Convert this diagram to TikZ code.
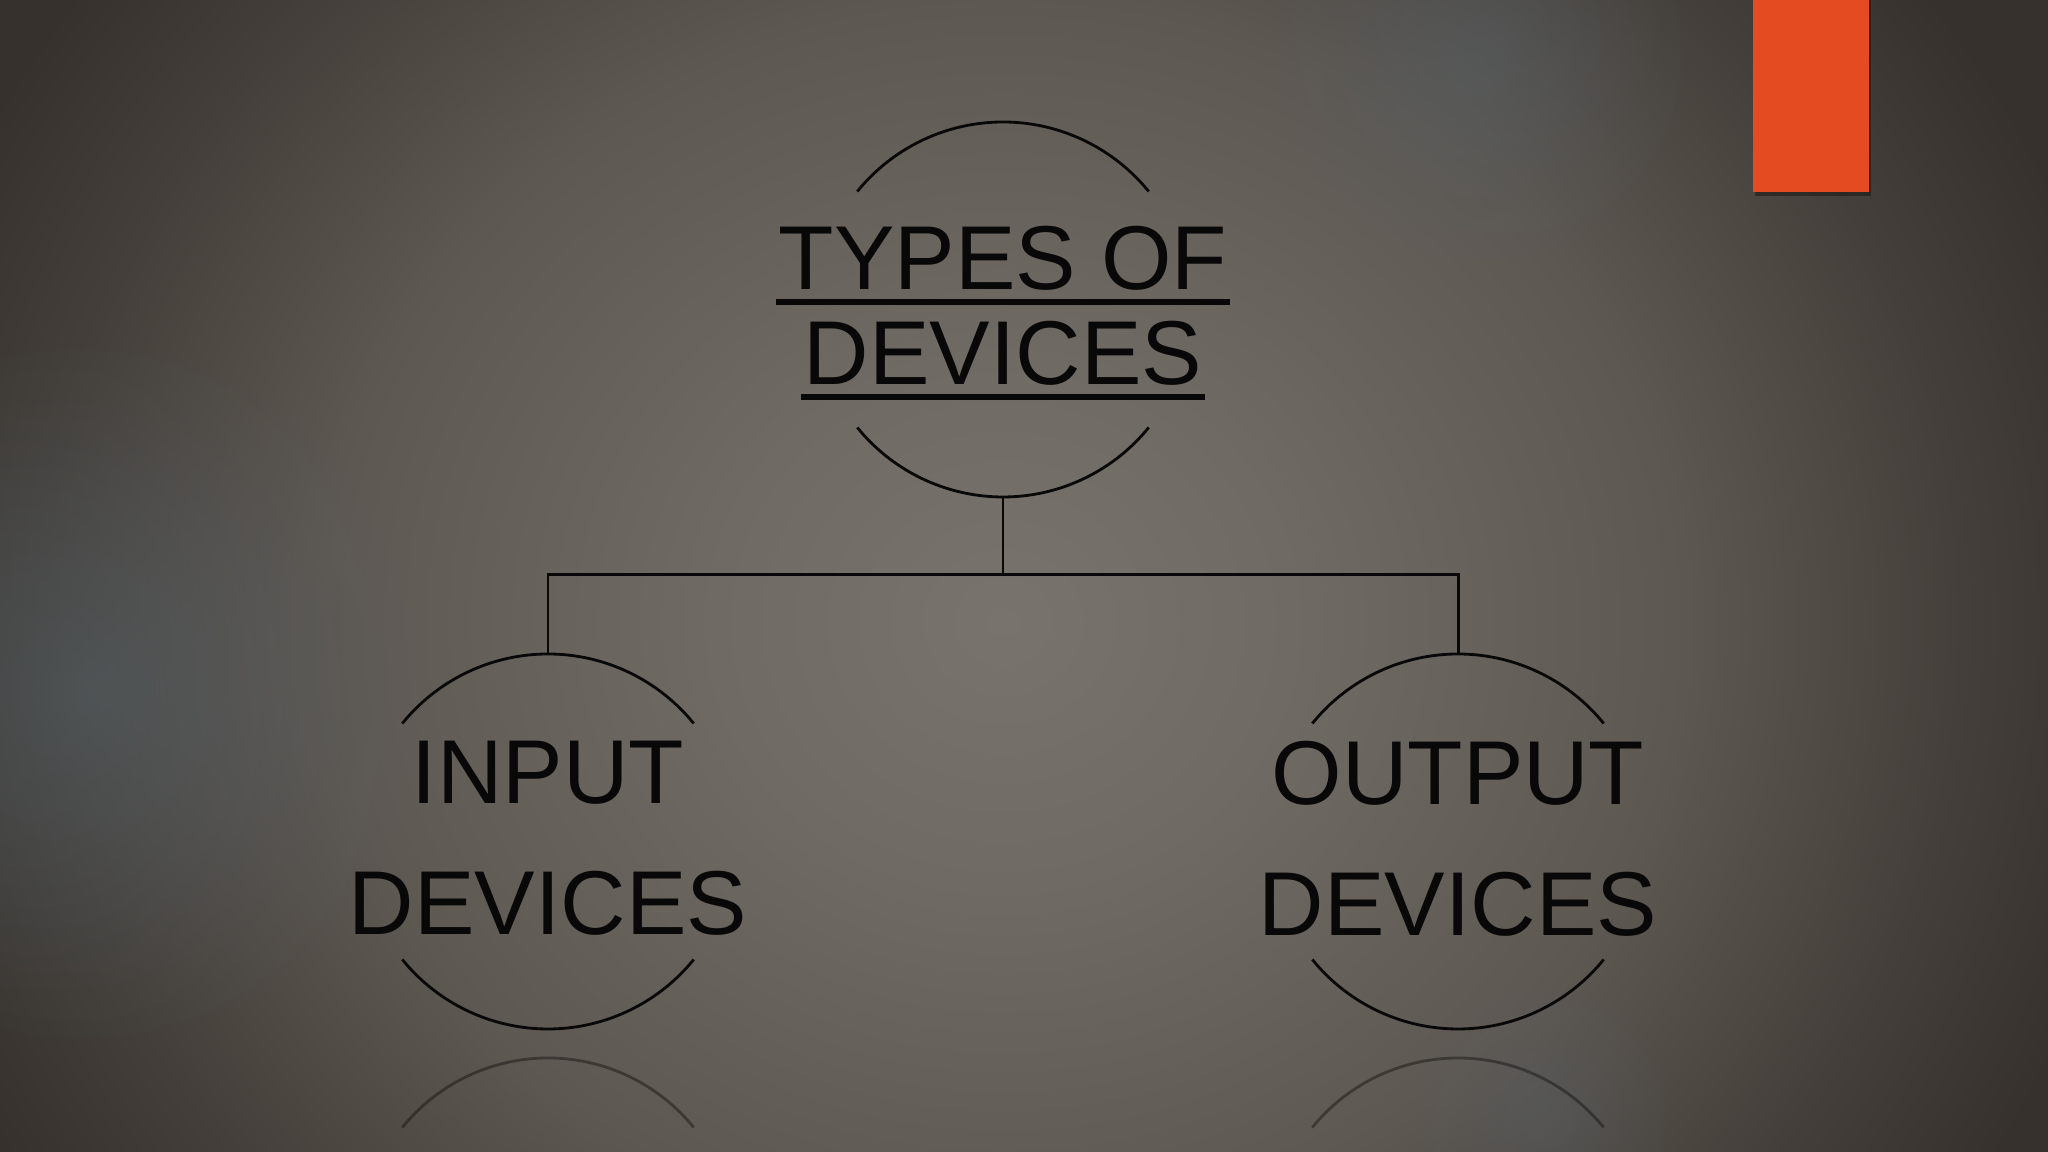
\documentclass[tikz,border=0pt]{standalone}
\usepackage{fontspec}
\setmainfont{Liberation Sans}
\usepackage{tikz}
\usetikzlibrary{positioning,calc,fadings}

\definecolor{bgEdge}{RGB}{54,49,44}
\definecolor{bgDim}{RGB}{68,63,58}
\definecolor{bgHalf}{RGB}{94,88,82}
\definecolor{bgMid}{RGB}{112,106,100}
\definecolor{bgCore}{RGB}{121,115,109}
\definecolor{blobGrey}{RGB}{86,100,108}
\definecolor{inkBlack}{RGB}{8,8,8}
\definecolor{slideOrange}{RGB}{229,75,33}
\definecolor{tabShadow}{RGB}{30,26,22}

\pgfdeclareradialshading{bgglow}{\pgfpoint{0bp}{0bp}}{color(0bp)=(bgCore); color(6bp)=(bgMid); color(14bp)=(bgHalf); color(20bp)=(bgDim); color(24bp)=(bgEdge); color(50bp)=(bgEdge)}
\tikzfading[name=softblob, inner color=transparent!0, outer color=transparent!100]

\begin{document}
\begin{tikzpicture}[
    ring/.style={circle, minimum size=3.75cm, inner sep=0pt, outer sep=0pt},
    arcline/.style={line width=0.8pt, draw=inkBlack},
    echoline/.style={line width=0.8pt, draw=inkBlack, opacity=0.4},
    link/.style={line width=0.85pt, draw=inkBlack},
    headtext/.style={anchor=base, inner sep=0pt, text=inkBlack, font=\fontsize{25.8}{27}\selectfont},
    kidtext/.style={anchor=north, inner sep=0pt, align=center, text=inkBlack, font=\fontsize{25.8}{37.3}\selectfont}
]
    \useasboundingbox (0,0) rectangle (20.48,11.52);

    % backdrop
    \begin{scope}
        \clip (0,0) rectangle (20.48,11.52);
        \fill[bgEdge] (0,0) rectangle (20.48,11.52);
        \shade[shading=bgglow] (10.03,5.3) ellipse (12 and 11);
        \fill[blobGrey, opacity=0.5, path fading=softblob] (0.9,4.6) circle (3.6);
        \fill[blobGrey, opacity=0.4, path fading=softblob] (14.76,10.9) circle (2.2);
        \fill[blobGrey, opacity=0.3, path fading=softblob] (15.4,0.4) circle (1.4);
    \end{scope}

    % orange tab
    \fill[tabShadow, opacity=0.6] (17.55,9.56) rectangle (18.71,11.52);
    \fill[slideOrange] (17.53,9.60) rectangle (18.69,11.52);

    \node [ring] (top) at (10.03,8.425) {};
    \node [ring, below=1.57cm of top, xshift=-4.55cm] (inp) {};
    \node [ring, below=1.57cm of top, xshift=4.55cm] (outp) {};
    \node [ring, below=0.29cm of inp] (inpEcho) {};
    \node [ring, below=0.29cm of outp] (outpEcho) {};

    \draw [arcline] (top.39) arc[start angle=39, end angle=141, radius=1.875cm];
    \draw [arcline] (top.-39) arc[start angle=-39, end angle=-141, radius=1.875cm];
    \draw [arcline] (inp.39) arc[start angle=39, end angle=141, radius=1.875cm];
    \draw [arcline] (inp.-39) arc[start angle=-39, end angle=-141, radius=1.875cm];
    \draw [arcline] (outp.39) arc[start angle=39, end angle=141, radius=1.875cm];
    \draw [arcline] (outp.-39) arc[start angle=-39, end angle=-141, radius=1.875cm];
    \draw [echoline] (inpEcho.39) arc[start angle=39, end angle=141, radius=1.875cm];
    \draw [echoline] (outpEcho.39) arc[start angle=39, end angle=141, radius=1.875cm];

    % title, two underlined lines
    \node [headtext] (topLineA) at ([yshift=1.95mm]top.center) {TYPES OF};
    \node [headtext] (topLineB) at ([yshift=-7.55mm]top.center) {DEVICES};
    \fill [inkBlack] ([xshift=-0.2mm, yshift=-0.95mm]topLineA.base west) rectangle ([xshift=0.2mm, yshift=-1.5mm]topLineA.base east);
    \fill [inkBlack] ([xshift=-0.2mm, yshift=-0.95mm]topLineB.base west) rectangle ([xshift=0.2mm, yshift=-1.55mm]topLineB.base east);

    \node [kidtext] (inpText) at ([yshift=10.15mm]inp.center) {INPUT\\DEVICES};
    \node [kidtext] (outpText) at ([yshift=10.15mm]outp.center) {OUTPUT\\DEVICES};

    \coordinate (fork) at ($(top.south)+(0,-0.78)$);
    \draw [link] (top.south) -- (fork);
    \draw [link] (inp.north) |- (fork) -| (outp.north);
\end{tikzpicture}
\end{document}
